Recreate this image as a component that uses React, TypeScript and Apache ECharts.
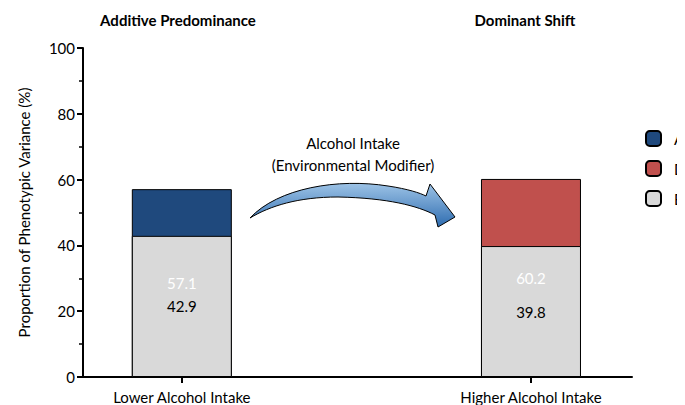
import React, { useEffect, useRef } from "react";
import * as echarts from "echarts";

const categories = ["Lower Alcohol Intake", "Higher Alcohol Intake"];
const catPos = [18, 81.6];
const valuesA = [57.1, null];
const valuesD = [null, 60.2];
const valuesE = [42.9, 39.8];
const yTicks = [0, 20, 40, 60, 80, 100];
const titles = ["Additive Predominance", "Dominant Shift"];

const F = "Lato, 'Open Sans', sans-serif";
const arrowD =
  "M242 210 C270 180 330 170 380 178 C400 181 412 185 418 188 L422 176 L447 209 L430 219 L427 207 C410 198 380 190 330 189 C290 189 262 198 242 210 Z";

export default function App() {
  const ref = useRef<HTMLDivElement>(null);
  useEffect(() => {
    echarts.graphic.registerShape("arrow", (echarts.graphic as any).extendPath(arrowD, {}));
    const chart = echarts.init(ref.current!, null, { renderer: "svg" });
    const mk = (vals: (number | null)[]) =>
      vals.map((v, i) => (v == null ? null : [catPos[i], v])).filter((d) => d) as number[][];
    const bar = (name: string, vals: (number | null)[], color: string, lc: string) => ({
      name,
      type: "bar",
      stack: "s",
      barWidth: 100,
      data: mk(vals),
      itemStyle: { color, borderColor: "#000", borderWidth: 1 },
      label: { show: true, position: "inside", color: lc, fontSize: 15, fontFamily: F, formatter: (p: any) => p.value[1].toFixed(1) },
    });
    chart.setOption({
      animation: false,
      grid: { left: 70, right: 61, top: 40, bottom: 36 },
      legend: {
        orient: "vertical", left: 632, top: 117, itemGap: 13, itemWidth: 15, itemHeight: 15,
        data: ["A", "D", "E"], textStyle: { fontSize: 15, fontFamily: F, color: "#000", padding: [0, 0, 0, 8] },
      },
      xAxis: {
        type: "value", min: 0, max: 100,
        splitLine: { show: false },
        axisLine: { show: true, lineStyle: { color: "#000", width: 2 } },
        axisTick: { show: true, customValues: catPos, length: 6, lineStyle: { color: "#000", width: 2 } },
        axisLabel: {
          customValues: catPos, color: "#000", fontSize: 15, fontFamily: F, margin: 12,
          formatter: (v: number) => categories[catPos.indexOf(v)] ?? "",
        },
      },
      yAxis: {
        type: "value", min: 0, max: 100, interval: 20,
        name: "Proportion of Phenotypic Variance (%)", nameLocation: "middle", nameGap: 52,
        nameTextStyle: { fontSize: 15, fontFamily: F, color: "#000" },
        splitLine: { show: false },
        axisLine: { show: true, lineStyle: { color: "#000", width: 2 } },
        axisTick: { show: true, length: 6, lineStyle: { color: "#000", width: 2 } },
        minorTick: { show: true, splitNumber: 2, length: 4, lineStyle: { color: "#000", width: 1.5 } },
        axisLabel: { color: "#000", fontSize: 15, fontFamily: F, customValues: yTicks },
      },
      series: [
        bar("A", valuesA, "#1f497d", "#fff"),
        bar("D", valuesD, "#c0504d", "#fff"),
        bar("E", valuesE, "#d9d9d9", "#000"),
      ],
      graphic: [
        { type: "text", x: 170, y: 12, style: { text: titles[0], fontSize: 15, fontWeight: "bold", fontFamily: F, fill: "#000", align: "center", verticalAlign: "middle" } },
        { type: "text", x: 517, y: 12, style: { text: titles[1], fontSize: 15, fontWeight: "bold", fontFamily: F, fill: "#000", align: "center", verticalAlign: "middle" } },
        { type: "text", x: 345, y: 146, style: { text: "Alcohol Intake\n(Environmental Modifier)", lineHeight: 22, fontSize: 15, fontFamily: F, fill: "#000", align: "center", verticalAlign: "middle" } },
        {
          type: "arrow", x: 0, y: 0,
          style: {
            fill: new echarts.graphic.LinearGradient(0, 0, 0, 1, [
              { offset: 0, color: "#9dc3e6" }, { offset: 1, color: "#2e6cb0" },
            ]),
            stroke: "#000", lineWidth: 1,
          },
        },
      ],
    });
    return () => chart.dispose();
  }, []);
  return <div ref={ref} style={{ width: 685, height: 405 }} />;
}
